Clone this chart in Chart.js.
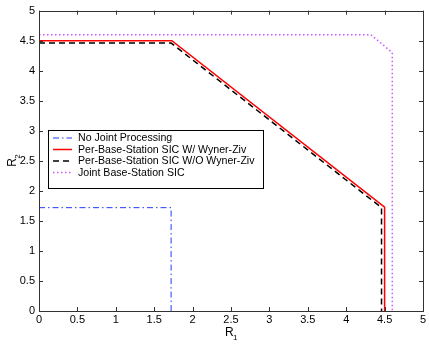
<!DOCTYPE html>
<html><head><meta charset="utf-8">
<script src="https://cdn.jsdelivr.net/npm/chart.js@4/dist/chart.umd.min.js"></script>
<style>html,body{margin:0;padding:0;background:#fff}#wrap{width:429px;height:344px}</style>
</head><body><div id="wrap"><canvas id="c"></canvas></div>
<script>
const xTicks = [0, 0.5, 1, 1.5, 2, 2.5, 3, 3.5, 4, 4.5, 5];
const yTicks = [0, 0.5, 1, 1.5, 2, 2.5, 3, 3.5, 4, 4.5, 5];
const seriesLabels = ["No Joint Processing", "Per-Base-Station SIC W/ Wyner-Ziv", "Per-Base-Station SIC W/O Wyner-Ziv", "Joint Base-Station SIC"];
const noJointR1 = [0, 1.72, 1.72];
const noJointR2 = [1.72, 1.72, 0];
const withWZR1 = [0, 1.73, 4.5, 4.5];
const withWZR2 = [4.5, 4.5, 1.73, 0];
const withoutWZR1 = [0, 1.72, 4.46, 4.46];
const withoutWZR2 = [4.46, 4.46, 1.72, 0];
const jointR1 = [0, 4.32, 4.6, 4.6];
const jointR2 = [4.6, 4.6, 4.3, 0];

const pts = (xs, ys) => xs.map((x, i) => ({x, y: ys[i]}));
const styles = [
  {color: '#1f3bff', dash: [6, 3, 1.5, 3], width: 1},
  {color: '#ff0000', dash: [], width: 1.5},
  {color: '#000000', dash: [6, 4], width: 1.5},
  {color: '#cc55ff', dash: [1.5, 2.5], width: 1.5}
];
const seriesData = [pts(noJointR1, noJointR2), pts(withWZR1, withWZR2), pts(withoutWZR1, withoutWZR2), pts(jointR1, jointR2)];

const FONT = 'Liberation Sans, Arial, sans-serif';

const framePlugin = {
  id: 'frame',
  afterDraw(chart) {
    const {ctx, chartArea: a, scales: {x, y}} = chart;
    ctx.save();
    ctx.strokeStyle = '#333';
    ctx.lineWidth = 1;
    ctx.setLineDash([]);
    ctx.strokeRect(Math.round(a.left) + 0.5, Math.round(a.top) + 0.5, Math.round(a.right - a.left), Math.round(a.bottom - a.top));
    const tl = 4;
    ctx.beginPath();
    xTicks.forEach(v => {
      const px = Math.round(x.getPixelForValue(v)) + 0.5;
      ctx.moveTo(px, a.bottom); ctx.lineTo(px, a.bottom - tl);
      ctx.moveTo(px, a.top); ctx.lineTo(px, a.top + tl);
    });
    yTicks.forEach(v => {
      const py = Math.round(y.getPixelForValue(v)) + 0.5;
      ctx.moveTo(a.left, py); ctx.lineTo(a.left + tl, py);
      ctx.moveTo(a.right, py); ctx.lineTo(a.right - tl, py);
    });
    ctx.stroke();

    // axis labels
    ctx.fillStyle = '#000';
    ctx.textBaseline = 'alphabetic';
    ctx.font = '12px ' + FONT;
    const cx = (a.left + a.right) / 2;
    ctx.textAlign = 'left';
    ctx.fillText('R', cx - 6, 336);
    ctx.font = '8px ' + FONT;
    ctx.fillText('1', cx + 2, 340);
    ctx.save();
    ctx.translate(16, (a.top + a.bottom) / 2);
    ctx.rotate(-Math.PI / 2);
    ctx.font = '12px ' + FONT;
    ctx.fillText('R', -6, 0);
    ctx.font = '8px ' + FONT;
    ctx.fillText('2', 2, 4);
    ctx.restore();

    // legend
    const lx = 48, ly = 130, lw = 215, lh = 58;
    ctx.fillStyle = '#fff';
    ctx.fillRect(lx, ly, lw, lh);
    ctx.strokeStyle = '#000';
    ctx.lineWidth = 1;
    ctx.strokeRect(lx + 0.5, ly + 0.5, lw, lh);
    ctx.font = '10.6px ' + FONT;
    ctx.textBaseline = 'middle';
    seriesLabels.forEach((lab, i) => {
      const yy = ly + 8 + i * 11.5;
      const s = styles[i];
      ctx.strokeStyle = s.color;
      ctx.lineWidth = s.width;
      ctx.setLineDash(s.dash);
      ctx.beginPath();
      ctx.moveTo(lx + 5, yy); ctx.lineTo(lx + 24, yy);
      ctx.stroke();
      ctx.setLineDash([]);
      ctx.fillStyle = '#000';
      ctx.fillText(lab, lx + 30, yy + 0.5);
    });
    ctx.restore();
  }
};

new Chart(document.getElementById('c'), {
  type: 'scatter',
  data: {
    datasets: seriesData.map((d, i) => ({
      label: seriesLabels[i],
      data: d,
      showLine: true,
      fill: false,
      borderColor: styles[i].color,
      borderWidth: styles[i].width,
      borderDash: styles[i].dash,
      pointRadius: 0,
      tension: 0
    }))
  },
  options: {
    responsive: true,
    maintainAspectRatio: false,
    animation: false,
    layout: {padding: {top: 9, right: 6, left: 0, bottom: 0}},
    plugins: {legend: {display: false}, tooltip: {enabled: false}},
    scales: {
      x: {
        type: 'linear', min: 0, max: 5,
        afterBuildTicks: s => { s.ticks = xTicks.map(v => ({value: v})); },
        ticks: {color: '#000', font: {size: 11, family: FONT}, padding: 2, maxRotation: 0, autoSkip: false, callback: v => String(v)},
        grid: {display: false, drawTicks: false}, border: {display: false},
        afterFit: s => { s.height = 33; }
      },
      y: {
        type: 'linear', min: 0, max: 5,
        afterBuildTicks: s => { s.ticks = yTicks.map(v => ({value: v})); },
        ticks: {color: '#000', font: {size: 11, family: FONT}, padding: 4, autoSkip: false, callback: v => String(v)},
        grid: {display: false, drawTicks: false}, border: {display: false},
        afterFit: s => { s.width = 39; }
      }
    }
  },
  plugins: [framePlugin]
});
</script></body></html>
